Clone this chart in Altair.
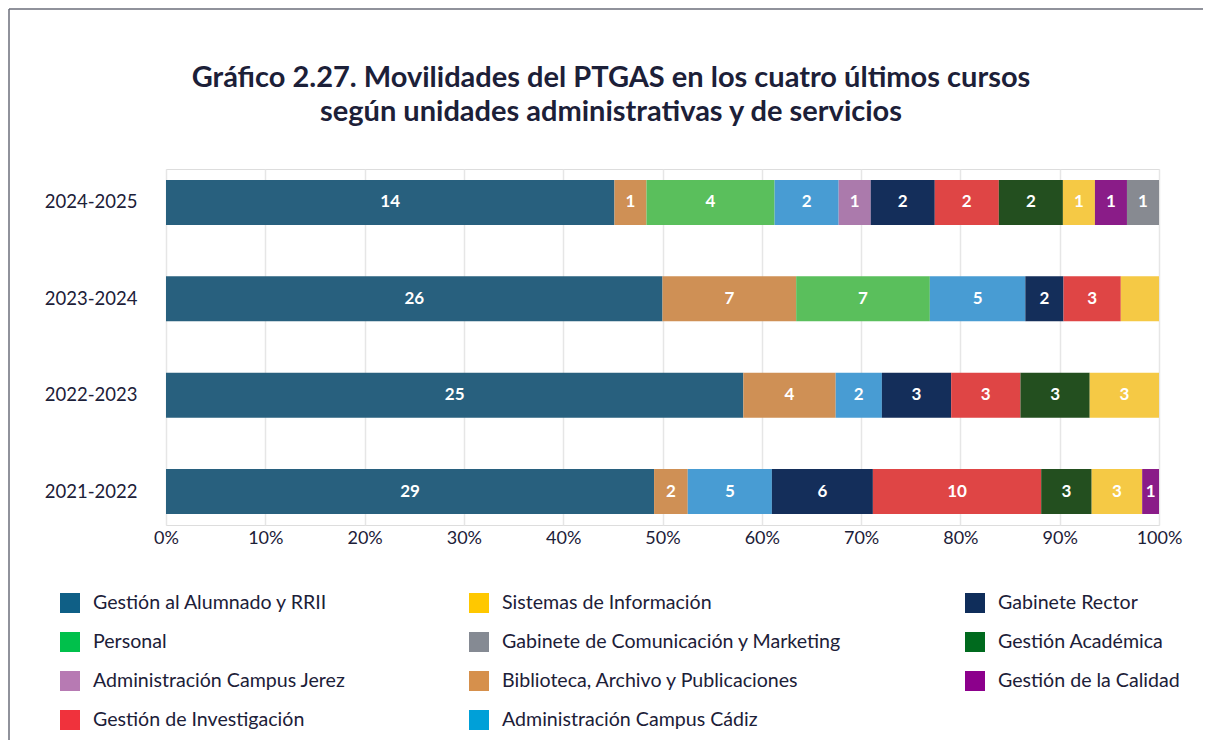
import altair as alt
import pandas as pd

years = ["2024-2025", "2023-2024", "2022-2023", "2021-2022"]
categories = [
    "Gestión al Alumnado y RRII",
    "Biblioteca, Archivo y Publicaciones",
    "Personal",
    "Administración Campus Cádiz",
    "Administración Campus Jerez",
    "Gabinete Rector",
    "Gestión de Investigación",
    "Gestión Académica",
    "Sistemas de Información",
    "Gestión de la Calidad",
    "Gabinete de Comunicación y Marketing",
]
v_2024_2025 = [14, 1, 4, 2, 1, 2, 2, 2, 1, 1, 1]
v_2023_2024 = [26, 7, 7, 5, 0, 2, 3, 0, 2, 0, 0]
v_2022_2023 = [25, 4, 0, 2, 0, 3, 3, 3, 3, 0, 0]
v_2021_2022 = [29, 2, 0, 5, 0, 6, 10, 3, 3, 1, 0]
values_by_year = [v_2024_2025, v_2023_2024, v_2022_2023, v_2021_2022]

# segments drawn without a number label in the original
hidden_labels = [("2023-2024", "Sistemas de Información")]

bar_colors = ["#28607e", "#cf9055", "#5abf5c", "#489cd3", "#ab7aac", "#142e5a",
              "#df4545", "#234f1f", "#f5c945", "#8a1c88", "#878a91"]

# legend entries, listed column by column
legend_order = [
    "Gestión al Alumnado y RRII", "Personal", "Administración Campus Jerez",
    "Gestión de Investigación",
    "Sistemas de Información", "Gabinete de Comunicación y Marketing",
    "Biblioteca, Archivo y Publicaciones", "Administración Campus Cádiz",
    "Gabinete Rector", "Gestión Académica", "Gestión de la Calidad",
]
legend_colors = [
    "#0f5f86", "#00c04b", "#b77ab3", "#f0323c",
    "#ffc800", "#858a93", "#d6904c", "#00a0d8",
    "#0f2d5a", "#006a1e", "#8c008c",
]

rows = []
for y, vals in zip(years, values_by_year):
    for i, (c, v) in enumerate(zip(categories, vals)):
        if v > 0:
            rows.append({"year": y, "cat": c, "value": v, "order": i,
                         "label": "" if (y, c) in hidden_labels else str(v)})
df = pd.DataFrame(rows)

TXT = "#1c2038"
FONT = "Lato"

base = alt.Chart(df).transform_stack(
    stack="value", groupby=["year"], as_=["x0", "x1"], offset="normalize",
    sort=[alt.SortField("order", order="ascending")],
).transform_calculate(mid="(datum.x0 + datum.x1) / 2")

yenc = alt.Y("year:N", sort=years,
             scale=alt.Scale(paddingInner=0.533, paddingOuter=0.114),
             axis=alt.Axis(title=None, ticks=False, domain=False, labelFont=FONT,
                           labelFontSize=18.5, labelColor=TXT, labelPadding=29, grid=False))

bars = base.mark_bar(stroke=None).encode(
    x=alt.X("x0:Q", scale=alt.Scale(domain=[0, 1], nice=False),
            axis=alt.Axis(title=None, format=".0%", values=[i / 10 for i in range(11)],
                          ticks=False, domain=False, grid=True, gridColor="#e6e6e6",
                          gridWidth=1.5, labelFont=FONT, labelFontSize=18,
                          labelColor=TXT, labelPadding=4, labelFlush=False)),
    x2="x1:Q",
    y=yenc,
    color=alt.Color("cat:N", scale=alt.Scale(domain=categories, range=bar_colors), legend=None),
)

text = base.mark_text(color="white", font=FONT, fontSize=17, fontWeight="bold").encode(
    x="mid:Q", y=alt.Y("year:N", sort=years), text="label:N",
)

ghost = alt.Chart(df).mark_square(opacity=1).encode(
    color=alt.Color("cat:N", scale=alt.Scale(domain=legend_order, range=legend_colors),
                    legend=alt.Legend(title=None, orient="none", legendX=-106, legendY=424,
                                      columns=3, symbolType="square", symbolSize=400,
                                      symbolStrokeWidth=0, symbolOpacity=1,
                                      labelFont=FONT, labelFontSize=19.6, labelColor=TXT,
                                      labelLimit=600, labelOffset=13, rowPadding=19,
                                      columnPadding=123)),
).transform_filter("false")

frame_df = pd.DataFrame({"k": [0]})
frame_top = alt.Chart(frame_df).mark_rule(color="#6b6e7a", strokeWidth=1.5).encode(
    x=alt.value(-157), x2=alt.value(1045), y=alt.value(-160))
frame_left = alt.Chart(frame_df).mark_rule(color="#6b6e7a", strokeWidth=1.5).encode(
    x=alt.value(-157), y=alt.value(-160), y2=alt.value(575))

chart = alt.layer(bars, text, ghost, frame_top, frame_left).resolve_scale(
    color="independent"
).properties(
    width=993, height=356,
    title=alt.TitleParams(
        text=["Gráfico 2.27. Movilidades del PTGAS en los cuatro últimos cursos",
              "según unidades administrativas y de servicios"],
        font=FONT, fontSize=29, fontWeight="bold", color=TXT, anchor="middle",
        frame="bounds", lineHeight=34, offset=0, dy=119, dx=1),
    autosize=alt.AutoSizeParams(type="none"),
    padding={"left": 158, "top": 161, "right": 44, "bottom": 215},
).configure_view(stroke=None).configure(background="white")

chart.save("out.html", embed_options={"renderer": "svg", "actions": False})
